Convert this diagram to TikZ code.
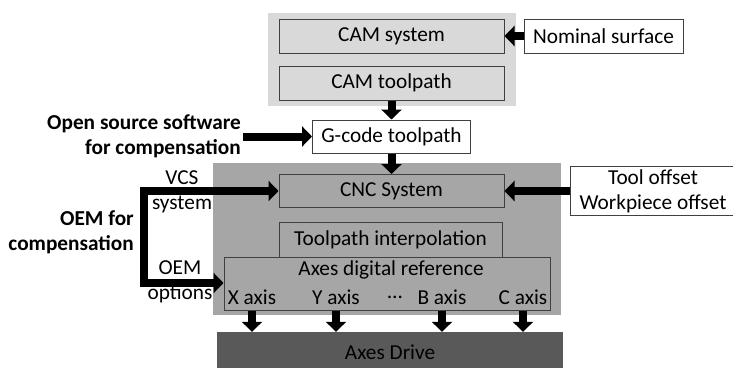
\documentclass[tikz,border=0pt]{standalone}
\usepackage{fontspec}
\setmainfont{Carlito}
\usetikzlibrary{arrows.meta,positioning}
\definecolor{camgray}{RGB}{217,217,217}
\definecolor{cncgray}{RGB}{166,166,166}
\definecolor{drivegray}{RGB}{89,89,89}
\definecolor{edgegray}{RGB}{64,64,64}

\begin{document}
\begin{tikzpicture}[x=1pt, y=-1pt, font=\fontsize{21.3}{25}\selectfont,
    block/.style={rectangle, draw=edgegray, line width=1pt, inner sep=0pt, align=center},
    lbl/.style={inner sep=2pt, align=center},
    fat/.style={line width=8pt, -{Triangle[width=20pt,length=10pt]}}]
  \useasboundingbox (0,0) rectangle (733,367);
  % background areas
  \fill[camgray] (268,13) rectangle (516,106);
  \fill[cncgray] (213,163) rectangle (561,315);

  \node[block, fill=camgray, minimum width=225pt, minimum height=34pt] (cam) at (391.5,36) {CAM system};
  \node[block, fill=camgray, minimum width=225pt, minimum height=34pt] (camtp) at (391.5,83) {CAM toolpath};
  \node[block, fill=white, minimum width=159pt, minimum height=34pt] (nominal) at (603.5,36) {Nominal surface};
  \node[block, fill=white, minimum width=158pt, minimum height=33pt] (gcode) at (391.5,136.5) {G-code toolpath};
  \node[block, fill=cncgray, minimum width=225pt, minimum height=33pt] (cnc) at (391.5,191) {CNC System};
  \node[block, fill=white, minimum width=166pt, minimum height=49pt] (offset) at (653,191) {Tool offset\\Workpiece offset};
  \node[block, fill=cncgray, minimum width=223pt, minimum height=35pt] (interp) at (390.5,239.5) {Toolpath interpolation};
  \node[block, fill=cncgray, minimum width=326pt, minimum height=53pt] (axref) at (387,283.5) {};
  \node[lbl] (axreft) at (391,270) {Axes digital reference};
  \node[lbl] (xax) at (252,297) {X axis};
  \node[lbl] (yax) at (336,297) {Y axis};
  \node[lbl] (dots) at (395,297) {\dots};
  \node[lbl] (bax) at (442,297) {B axis};
  \node[lbl] (cax) at (523,297) {C axis};
  \node[fill=drivegray, inner sep=0pt, minimum width=346pt, minimum height=40pt] (drive) at (390,352) {Axes Drive};

  % inputs on the left
  \node[lbl, anchor=east, align=right, font=\fontsize{21.3}{25}\selectfont\bfseries] (oss) at (243,136.5) {Open source software\\for compensation};
  \node[lbl, anchor=east, align=right, font=\fontsize{21.3}{25}\selectfont\bfseries] (oem) at (136,232) {OEM for\\compensation};
  \node[lbl] (vcs) at (182,192) {VCS\\system};
  \node[lbl] (oemopt) at (180,282) {OEM\\options};
  \coordinate (vtop) at (144,191);
  \coordinate (vbot) at (144,283);

  \draw[fat] (nominal) -- (cam);
  \draw[fat] (camtp) -- (gcode);
  \draw[fat] (oss) -- (gcode);
  \draw[fat] (gcode) -- (cnc);
  \draw[fat] (offset) -- (cnc);
  \draw[fat] (vbot) -- (vtop) -- (cnc.west);
  \draw[fat] (vtop) -- (vbot) -- (axref.west |- vbot);
  \foreach \ax in {xax, yax, bax, cax}
    \draw[fat] (\ax |- axref.south) -- (\ax |- drive.north);
\end{tikzpicture}
\end{document}
